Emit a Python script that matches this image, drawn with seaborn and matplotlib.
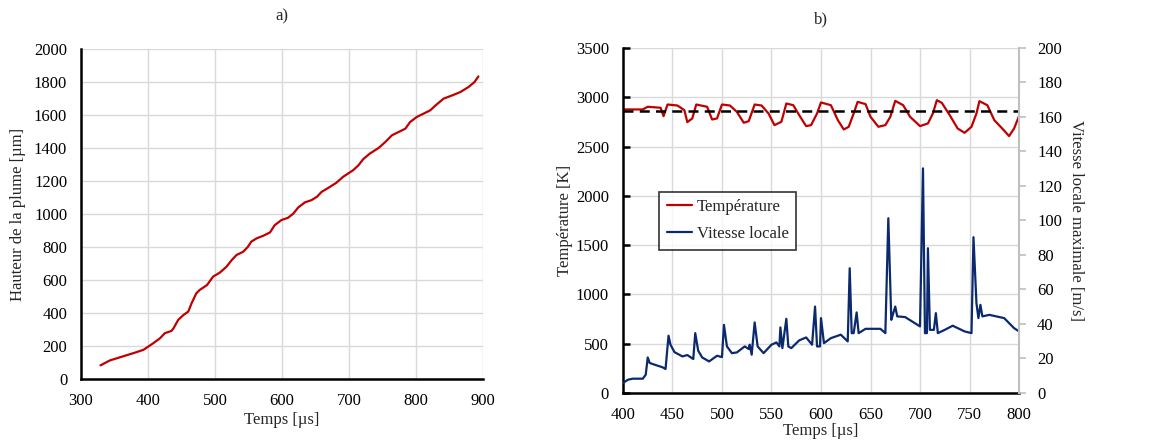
import numpy as np
import pandas as pd
import matplotlib
matplotlib.use("Agg")
import matplotlib.pyplot as plt
import seaborn as sns
from matplotlib.lines import Line2D

# a) plume height vs time
temps_a = [329, 343, 378, 393, 408, 418, 425, 435, 438, 445, 453, 460, 465, 472, 477,
           488, 497, 507, 517, 525, 532, 542, 549, 554, 562, 572, 582, 589, 599, 609,
           617, 624, 634, 644, 652, 659, 669, 681, 691, 706, 714, 721, 731, 744, 754,
           764, 774, 784, 791, 801, 811, 821, 829, 841, 854, 866, 878, 887, 893]
hauteur = [83, 113, 157, 177, 218, 248, 278, 292, 308, 359, 389, 409, 460, 520, 540,
           570, 621, 645, 681, 722, 752, 772, 802, 833, 853, 869, 889, 933, 964, 978,
           1004, 1040, 1071, 1085, 1105, 1135, 1159, 1190, 1226, 1266, 1296, 1333, 1367, 1401, 1437,
           1478, 1498, 1518, 1558, 1589, 1609, 1629, 1659, 1700, 1720, 1740, 1770, 1800, 1835]

# b) temperature vs time
temps_T = [400, 420, 425, 438, 441, 445, 455, 462, 465, 470, 474, 485, 490, 495, 500,
           508, 515, 522, 527, 533, 540, 547, 553, 560, 565, 572, 578, 585, 590, 596,
           600, 610, 617, 623, 628, 633, 637, 645, 650, 658, 665, 670, 675, 683, 690,
           700, 708, 713, 717, 722, 730, 738, 745, 752, 757, 760, 768, 775, 783, 790,
           795, 800]
temperature = [2876, 2876, 2903, 2893, 2808, 2926, 2916, 2869, 2747, 2785, 2926, 2903, 2774, 2785, 2926,
               2916, 2852, 2741, 2757, 2926, 2916, 2835, 2717, 2751, 2936, 2919, 2818, 2707, 2717, 2835,
               2947, 2919, 2768, 2673, 2700, 2835, 2953, 2930, 2801, 2700, 2717, 2801, 2963, 2919, 2801,
               2707, 2734, 2835, 2970, 2943, 2818, 2683, 2639, 2700, 2835, 2960, 2919, 2768, 2683, 2606,
               2683, 2808]
T_ref = 2860

# b) local max velocity vs time
temps_v = [400, 405, 410, 420, 423, 425, 427, 432, 440, 443, 446, 448, 452, 460, 465,
           471, 473, 476, 480, 487, 495, 500, 502, 505, 510, 515, 523, 527, 528, 530,
           533, 536, 542, 550, 555, 558, 559, 561, 565, 567, 570, 578, 585, 591, 594,
           596, 599, 600, 603, 610, 620, 627, 629, 631, 633, 636, 638, 645, 660, 665,
           668, 671, 673, 675, 677, 685, 700, 703, 705, 707, 708, 710, 714, 716, 718,
           725, 733, 745, 752, 754, 757, 759, 761, 763, 770, 785, 795, 800]
vitesse = [5.8, 7.7, 8.3, 8.3, 10.6, 20.6, 17.4, 16.4, 14.9, 13.9, 33.2, 28, 23.7, 21.2, 22,
           19.7, 34.7, 24.5, 20.6, 18.3, 21.6, 20.8, 39.5, 27, 23.1, 23.5, 27, 25.5, 28, 22.2,
           40.9, 27, 23.1, 28, 29.3, 27, 38, 26, 43, 27, 26, 30.5, 32.2, 28, 50.1,
           27, 27, 43.4, 28.9, 31.8, 33.8, 29.9, 72.3, 34.7, 34.7, 46.7, 34.7, 37.2, 37.2, 34.7,
           101.3, 42.4, 46.3, 50.1, 44.4, 44, 38.6, 130.2, 34.7, 34.7, 83.9, 36.6, 36.6, 46.3, 34.7,
           36.6, 39, 35.7, 34.7, 90.3, 52, 43.4, 51.1, 44.4, 45.3, 43.4, 37.6, 35.7]

red = "#C00000"
navy = "#0B2A6E"
grid_col = "#D9D9D9"
fs = 12

sns.set_style("white")
plt.rcParams['font.family'] = ['Liberation Serif', 'DejaVu Serif']
plt.rcParams['font.size'] = fs

fig = plt.figure(figsize=(11.53, 4.47), dpi=100)

def style_axes(ax):
    ax.grid(True, color=grid_col, linewidth=1)
    ax.set_axisbelow(True)
    for s in ['top', 'right']:
        ax.spines[s].set_visible(False)
    for s in ['left', 'bottom']:
        ax.spines[s].set_color('black')
        ax.spines[s].set_linewidth(1.8)
    ax.tick_params(axis='both', direction='in', length=5, width=1.8, colors='black',
                   labelsize=fs, pad=10)

# Panel a
ax1 = fig.add_axes([0.0703, 0.152, 0.3487, 0.738])
df_a = pd.DataFrame({'Temps': temps_a, 'Hauteur': hauteur})
sns.lineplot(data=df_a, x='Temps', y='Hauteur', color=red, linewidth=1.6, ax=ax1)
ax1.set_xlim(300, 900)
ax1.set_ylim(0, 2000)
ax1.set_xticks(np.arange(300, 901, 100))
ax1.set_yticks(np.arange(0, 2001, 200))
style_axes(ax1)
ax1.set_xlabel('Temps [µs]', fontsize=fs, labelpad=2)
ax1.set_ylabel('Hauteur de la plume [µm]', fontsize=fs, labelpad=6)
ax1.set_title('a)', fontsize=fs, pad=21)

# Panel b
ax2 = fig.add_axes([0.5403, 0.1208, 0.3435, 0.772])
df_T = pd.DataFrame({'Temps': temps_T, 'T': temperature})
sns.lineplot(data=df_T, x='Temps', y='T', color=red, linewidth=1.6, ax=ax2)
ax2.axhline(T_ref, color='black', linestyle=(0, (4, 2.5)), linewidth=1.8)
ax2.set_xlim(400, 800)
ax2.set_ylim(0, 3500)
ax2.set_xticks(np.arange(400, 801, 50))
ax2.set_yticks(np.arange(0, 3501, 500))
style_axes(ax2)
ax2.set_xlabel('Temps [µs]', fontsize=fs, labelpad=0)
ax2.set_ylabel('Température [K]', fontsize=fs, labelpad=2)
ax2.set_title('b)', fontsize=fs, pad=18)

ax3 = ax2.twinx()
df_v = pd.DataFrame({'Temps': temps_v, 'v': vitesse})
sns.lineplot(data=df_v, x='Temps', y='v', color=navy, linewidth=1.6, ax=ax3)
ax3.set_ylim(0, 200)
ax3.set_yticks(np.arange(0, 201, 20))
for s in ['top', 'left', 'bottom']:
    ax3.spines[s].set_visible(False)
ax3.spines['right'].set_color('#BFBFBF')
ax3.spines['right'].set_linewidth(1.5)
ax3.tick_params(axis='y', direction='out', length=5, width=1.2, color='#BFBFBF',
                labelcolor='black', labelsize=fs, pad=8)
ax3.set_ylabel('Vitesse locale maximale [m/s]', fontsize=fs, rotation=270, labelpad=16)
ax3.grid(False)
ax3.set_xlabel('')

handles = [Line2D([], [], color=red, linewidth=1.6),
           Line2D([], [], color=navy, linewidth=1.6)]
leg = ax3.legend(handles, ['Température', 'Vitesse locale'], loc='upper left',
                 bbox_to_anchor=(0.091, 0.583), frameon=True, fancybox=False,
                 edgecolor='black', fontsize=fs, handlelength=1.5, handletextpad=0.3,
                 borderpad=0.45, labelspacing=0.65, borderaxespad=0)
leg.get_frame().set_linewidth(1.2)

fig.savefig('out.png', dpi=100)
